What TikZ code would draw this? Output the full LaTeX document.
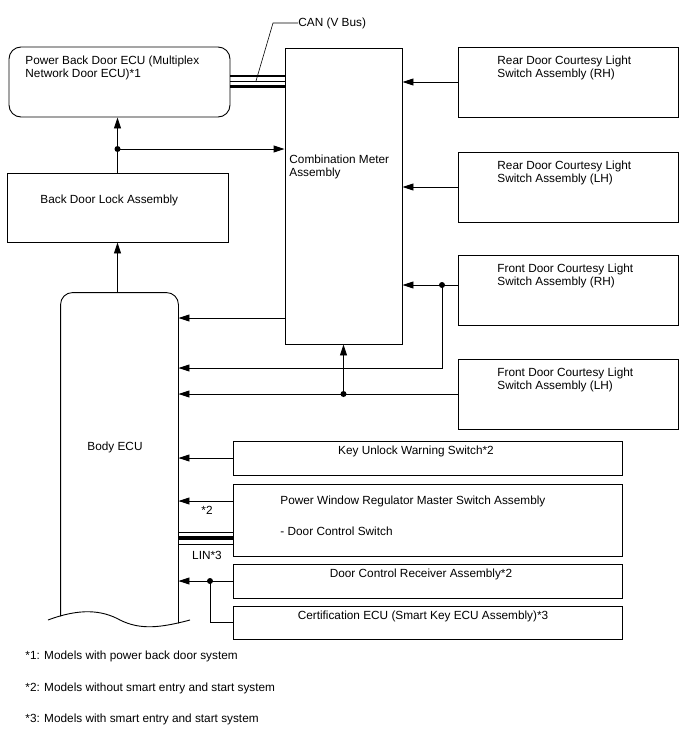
\documentclass[tikz,border=0pt]{standalone}
\usepackage{fontspec}
\setmainfont{Liberation Sans}
\usepackage{tikz}
\usetikzlibrary{arrows.meta}

\begin{document}
\begin{tikzpicture}[x=1pt, y=-1pt, line width=0.9pt,
	every node/.style={font=\fontsize{11.8}{13.6}\selectfont},
	box/.style={draw, line width=0.9pt, inner sep=0pt},
	txt/.style={inner sep=0pt, align=left},
	arr/.style={-{Triangle[length=11pt,width=7pt]}},
	jdot/.style={circle, fill, inner sep=0pt, minimum size=6pt}]
	\useasboundingbox (0,0) rectangle (688,755);
	% units
	\node[box, rounded corners=12pt, minimum width=221pt, minimum height=70pt] (pbd) at (119.5,82) {};
	\node[txt, anchor=north west] at (25,55) {Power Back Door ECU (Multiplex\\Network Door ECU)*1};
	\node[box, minimum width=117pt, minimum height=296pt] (cmb) at (343.5,196) {};
	\node[txt, anchor=north west] at (289,154) {Combination Meter\\Assembly};
	\node[box, minimum width=221pt, minimum height=69pt] (bdl) at (117.5,207.5) {};
	\node[txt, anchor=north west] at (40,194) {Back Door Lock Assembly};
	\node[box, minimum width=220pt, minimum height=70pt] (rdrh) at (568,82) {};
	\node[txt, anchor=north west] at (497,55) {Rear Door Courtesy Light\\Switch Assembly (RH)};
	\node[box, minimum width=220pt, minimum height=70pt] (rdlh) at (568,187) {};
	\node[txt, anchor=north west] at (497,160) {Rear Door Courtesy Light\\Switch Assembly (LH)};
	\node[box, minimum width=220pt, minimum height=70pt] (fdrh) at (568,290) {};
	\node[txt, anchor=north west] at (497,263) {Front Door Courtesy Light\\Switch Assembly (RH)};
	\node[box, minimum width=220pt, minimum height=70pt] (fdlh) at (568,394) {};
	\node[txt, anchor=north west] at (497,367) {Front Door Courtesy Light\\Switch Assembly (LH)};
	\node[box, minimum width=389pt, minimum height=34pt] (kuw) at (427.5,458) {};
	\node[txt, anchor=north] at (416,445) {Key Unlock Warning Switch*2};
	\node[box, minimum width=389pt, minimum height=72pt] (pwr) at (427.5,520) {};
	\node[txt, anchor=north west] at (280,495) {Power Window Regulator Master Switch Assembly\\[17.5pt]- Door Control Switch};
	\node[box, minimum width=389pt, minimum height=34pt] (dcr) at (427.5,581) {};
	\node[txt, anchor=north] at (421,568) {Door Control Receiver Assembly*2};
	\node[box, minimum width=389pt, minimum height=33pt] (cert) at (427.5,622.5) {};
	\node[txt, anchor=north] at (423,610) {Certification ECU (Smart Key ECU Assembly)*3};
	% body ECU
	\node[inner sep=0pt, minimum width=117pt, minimum height=330pt] (becu) at (119.5,458) {};
	\draw[rounded corners=12pt] ([yshift=7pt]becu.south west) -- (becu.north west) -- (becu.north east) -- (becu.south east);
	\draw (48,620) .. controls (80,608) and (102,610) .. (120,620) .. controls (140,630) and (160,628) .. (190,620);
	\node[txt] at (115,447) {Body ECU};
	% CAN
	\draw[line width=2.4pt] ([yshift=6pt]pbd.east) -- ([yshift=6pt]pbd.east -| cmb.west);
	\draw ([yshift=1pt]pbd.east) -- ([yshift=1pt]pbd.east -| cmb.west);
	\draw[line width=2.4pt] ([yshift=-4.5pt]pbd.east) -- ([yshift=-4.5pt]pbd.east -| cmb.west);
	\node[txt, anchor=west] (canl) at (298,23) {CAN (V Bus)};
	\coordinate (canp) at (256,81);
	\draw[line width=0.6pt] (canl.west) -- ++(-25,0) -- (canp);
	% LIN
	\draw[line width=0.7pt] ([yshift=-12.5pt]pwr.west) -- ([yshift=-12.5pt]pwr.west -| becu.east);
	\draw[line width=4.5pt] ([yshift=-18pt]pwr.west) -- ([yshift=-18pt]pwr.west -| becu.east);
	\draw[line width=0.7pt] ([yshift=-24.5pt]pwr.west) -- ([yshift=-24.5pt]pwr.west -| becu.east);
	\node[txt] at (207,555) {LIN*3};
	% signal lines
	\coordinate (j1) at (117.5,149);
	\draw[arr] (bdl.north) -- (bdl.north |- pbd.south);
	\draw[arr] (j1) -- (j1 -| cmb.west);
	\node[jdot] at (j1) {};
	\draw[arr] (bdl.south |- becu.north) -- (bdl.south);
	\draw[arr] (rdrh.west) -- (rdrh.west -| cmb.east);
	\draw[arr] (rdlh.west) -- (rdlh.west -| cmb.east);
	\coordinate (j2) at (442,285);
	\draw[arr] (fdrh.west |- j2) -- (j2 -| cmb.east);
	\draw[arr] (j2) |- (becu.east |- 0,368);
	\node[jdot] at (j2) {};
	\draw[arr] (cmb.west |- 0,318) -- (becu.east |- 0,318);
	\coordinate (j3) at (cmb.south |- fdlh.west);
	\draw[arr] (fdlh.west) -- (fdlh.west -| becu.east);
	\draw[arr] (j3) -- (cmb.south);
	\node[jdot] at (j3) {};
	\draw[arr] (kuw.west) -- (kuw.west -| becu.east);
	\draw[arr] ([yshift=19pt]pwr.west) -- ([yshift=19pt]pwr.west -| becu.east);
	\node[txt] at (207,510) {*2};
	\coordinate (j4) at (210,581);
	\draw[arr] (dcr.west) -- (dcr.west -| becu.east);
	\draw (cert.west) -| (j4);
	\node[jdot] at (j4) {};
	% notes
	\node[txt, anchor=west] at (25,656) {*1: Models with power back door system};
	\node[txt, anchor=west] at (25,688) {*2: Models without smart entry and start system};
	\node[txt, anchor=west] at (25,719) {*3: Models with smart entry and start system};
\end{tikzpicture}
\end{document}
